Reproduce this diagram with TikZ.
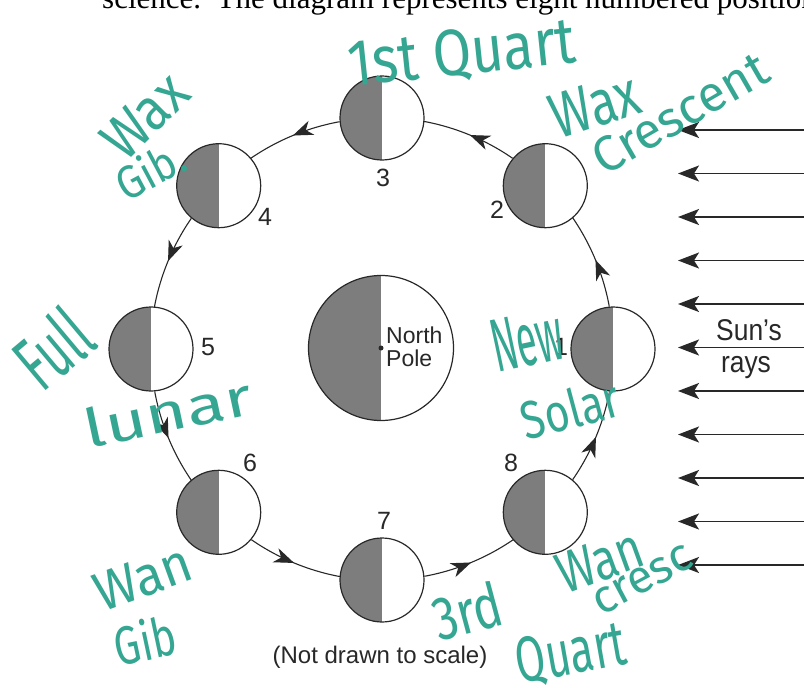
\documentclass[tikz,border=0pt]{standalone}
\usepackage{fontspec}
\usepackage{graphicx}
\setmainfont{Liberation Sans}
\newfontfamily\seriffont{Liberation Serif}
\newfontfamily\handfont{Fira Sans}
\newfontfamily\labfont[FakeStretch=0.88]{Liberation Sans}
\usetikzlibrary{arrows.meta,decorations.markings}
\definecolor{ink}{RGB}{40,40,40}
\definecolor{moonfill}{RGB}{125,125,125}
\definecolor{marker}{RGB}{52,166,146}
\newcommand{\handtxt}[3]{\resizebox{#1pt}{#2pt}{\handfont #3}}
\tikzset{
  body/.style={circle, draw=ink, line width=1.2pt, inner sep=0pt, fill=white,
    path picture={\fill[moonfill] (path picture bounding box.south west) rectangle (path picture bounding box.north);}},
  moon/.style={body, minimum size=84pt},
  earth/.style={body, minimum size=145pt},
  orbit/.style={draw=ink, line width=1.1pt, postaction=decorate,
    decoration={markings, mark=at position 0.5 with {\arrow{Stealth[length=20pt,width=15pt,inset=6pt]}}}},
  ray/.style={draw=ink, line width=1.7pt, -{Stealth[length=21pt,width=16pt,inset=5pt]}},
  num/.style={font=\fontsize{25}{25}\selectfont, text=ink, inner sep=0pt},
  lab/.style={font=\labfont\fontsize{30}{30}\selectfont, text=ink, inner sep=0pt},
  hand/.style={text=marker, inner sep=0pt},
  dotstyle/.style={circle, fill=ink, inner sep=0pt, minimum size=5pt},
}
\begin{document}
\begin{tikzpicture}[x=1pt, y=-1pt]
\useasboundingbox (0,0) rectangle (804,688);
\clip (0,0) rectangle (804,688);
\fill[white] (0,0) rectangle (804,688);

% header line (cut off at top)
\node[anchor=base west, inner sep=0pt, font=\seriffont\fontsize{31}{31}\selectfont, text=black] (hdr) at (102,9)
  {science.\ \ The diagram represents eight numbered position};

% Earth
\node[earth] (E) at (381,348) {};
\node[dotstyle] (pole) at (E.center) {};
\node[anchor=west, align=left, font=\fontsize{23}{23}\selectfont, text=ink, inner sep=0pt] (np) at (386,347) {North\\Pole};

% Moons
\node[moon] (m1) at (613,349) {};
\node[moon] (m2) at (545.3,185.7) {};
\node[moon] (m3) at (382,118) {};
\node[moon] (m4) at (218.7,185.7) {};
\node[moon] (m5) at (151,349) {};
\node[moon] (m6) at (218.7,512.3) {};
\node[moon] (m7) at (382,580) {};
\node[moon] (m8) at (545.3,512.3) {};

% orbit connectors: arcs of the orbit circle (radius 231) from one moon to the next
\foreach \k in {1,...,8}{
  \pgfmathsetmacro{\phik}{45*(\k-1)}
  \draw[orbit] (m\k.{\phik+95.2}) arc[start angle={-(\phik+10.4)}, end angle={-(\phik+34.6)}, radius=231];
}

% numbers
\node[num] (n1) at (561,347) {1};
\node[num] (n2) at (497,210) {2};
\node[num] (n3) at (383,178) {3};
\node[num] (n4) at (265,217) {4};
\node[num] (n5) at (208,347) {5};
\node[num] (n6) at (250,463) {6};
\node[num] (n7) at (384,521) {7};
\node[num] (n8) at (511,463) {8};

% Sun's rays
\foreach \k in {0,...,10}{
  \coordinate (rs\k) at (806,{130+43.5*\k});
  \coordinate (rt\k) at (678,{130+43.5*\k});
  \draw[ray] (rs\k) -- (rt\k);
}
\node[lab] (sun) at (749,330) {Sun’s};
\node[lab] (rays) at (746,368) {rays};

\node[font=\fontsize{24}{24}\selectfont, text=ink, inner sep=0pt] (note) at (380,657) {(Not drawn to scale)};

% handwritten annotations
\node[hand, rotate=6]  (h1)  at (462,55)  {\handtxt{228}{46}{1st Quart}};
\node[hand, rotate=18] (h2)  at (595,105) {\handtxt{90}{44}{Wax}};
\node[hand, rotate=30] (h3)  at (680,113) {\handtxt{195}{35}{Crescent}};
\node[hand, rotate=45] (h4)  at (145,116) {\handtxt{95}{41}{Wax}};
\node[hand, rotate=28] (h5)  at (150,170) {\handtxt{72}{36}{Gib.}};
\node[hand, rotate=40] (h6)  at (53,348)  {\handtxt{75}{58}{Full}};
\node[hand, rotate=12] (h7)  at (168,412) {\handtxt{170}{40}{lunar}};
\node[hand, rotate=12] (h8)  at (527,340) {\handtxt{72}{52}{New}};
\node[hand, rotate=15] (h9)  at (570,409) {\handtxt{100}{40}{Solar}};
\node[hand, rotate=20] (h10) at (143,578) {\handtxt{100}{38}{Wan}};
\node[hand, rotate=12] (h11) at (145,640) {\handtxt{62}{42}{Gib}};
\node[hand, rotate=15] (h12) at (467,611) {\handtxt{70}{46}{3rd}};
\node[hand, rotate=10] (h13) at (571,655) {\handtxt{111}{45}{Quart}};
\node[hand, rotate=20] (h14) at (600,561) {\handtxt{88}{40}{Wan}};
\node[hand, rotate=28] (h15) at (643,580) {\handtxt{108}{25}{cresc}};
\end{tikzpicture}
\end{document}
